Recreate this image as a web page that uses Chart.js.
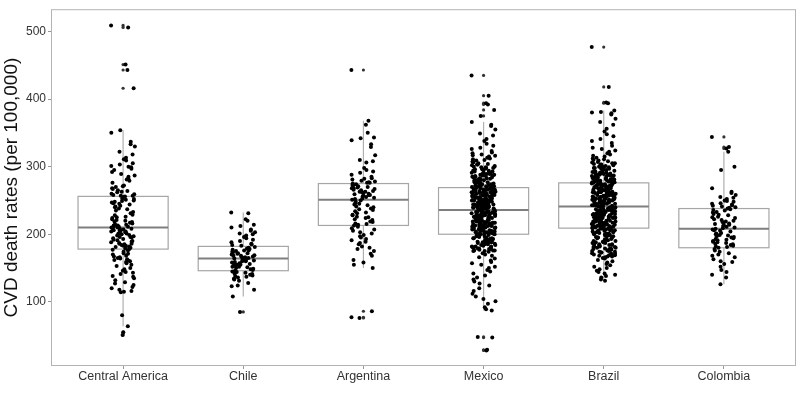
<!DOCTYPE html>
<html>
<head>
<meta charset="utf-8">
<script src="https://cdn.jsdelivr.net/npm/chart.js@4/dist/chart.umd.min.js"></script>
<style>
  html, body { margin: 0; padding: 0; background: #fff; }
</style>
</head>
<body>
<canvas id="chart" width="800" height="400"></canvas>
<script>
// categories and box statistics
const categories = ["Central America", "Chile", "Argentina", "Mexico", "Brazil", "Colombia"];
const q1 = [178, 146, 213, 200, 209, 180];
const median = [210, 164, 251, 236, 241, 208];
const q3 = [256, 182, 275, 269, 276, 238];
const whiskerLow = [64, 108, 150, 87, 131, 126];
const whiskerHigh = [354, 232, 368, 366, 383, 322];
const yTicks = [100, 200, 300, 400, 500];

// CVD death rates per region (one value per point)
const centralAmerica = [
  509, 506, 451, 443, 416,
  354, 350, 337, 333, 330, 322, 318, 313, 311, 309, 305, 303, 301, 299, 297, 292, 289, 287, 285, 281,
  279, 276, 272, 270, 268, 267, 265, 264, 262, 260, 259, 258, 257, 257, 256, 263, 271, 283, 295, 300,
  255, 253, 251, 250, 249, 248, 247, 246, 245, 244, 242, 241, 240, 238, 237, 235, 233, 231, 229, 228,
  226, 225, 224, 222, 221, 220, 219, 218, 217, 216, 215, 214, 213, 213, 212, 211, 211, 210, 210, 252,
  209, 208, 208, 207, 206, 205, 204, 204, 203, 202, 201, 200, 199, 198, 197, 196, 195, 194, 193, 192,
  190, 189, 188, 187, 186, 185, 184, 183, 182, 181, 180, 180, 179, 178, 206, 201, 196, 191, 186, 183,
  177, 176, 174, 172, 171, 170, 168, 166, 165, 164, 163, 162, 160, 159, 157, 155, 153, 150, 148, 146,
  144, 143, 141, 138, 137, 135, 132, 129, 127, 125, 122, 120, 118, 116, 115, 114, 80, 64, 167, 161,
  55, 51
];
const chile = [
  232, 231, 222, 220, 214, 212, 210, 207, 205, 203, 201, 200, 198, 196, 194, 192, 190, 188, 186, 185, 184, 183,
  181, 180, 179, 178, 177, 176, 175, 174, 173, 172, 172, 171, 170, 169, 168, 168, 167, 166, 166, 165, 165, 164, 176,
  163, 162, 162, 161, 160, 159, 158, 157, 157, 156, 155, 154, 153, 152, 151, 150, 149, 148, 147, 146, 160, 155, 152,
  145, 144, 143, 142, 141, 140, 139, 138, 137, 136, 134, 133, 131, 128, 124, 123, 118, 108, 85
];
const argentina = [
  443, 368, 362, 350, 343, 342, 339, 333, 329, 317, 310, 308, 306, 298, 295, 293, 291, 288, 285, 283,
  281, 279, 278, 277, 276, 276, 275, 282,
  274, 273, 272, 271, 270, 269, 268, 267, 266, 265, 264, 263, 262, 261, 260, 259, 258, 257, 256, 255,
  254, 253, 252, 251, 268, 263, 258,
  250, 248, 246, 245, 243, 241, 240, 238, 236, 234, 232, 231, 229, 228, 226, 224, 222, 221, 219, 218,
  216, 215, 214, 213, 244, 237, 225,
  211, 209, 207, 205, 203, 201, 199, 197, 195, 193, 191, 189, 187, 185, 182, 180, 178, 175, 171, 168,
  162, 158, 155, 150, 86, 77, 76
];
const mexico = [
  435, 405, 394, 392, 384, 375,
  366, 362, 360, 355, 349, 346, 341, 338, 334, 331, 328, 326, 323, 321, 320, 318, 316, 315, 313, 312,
  311, 310, 309, 307, 306, 305, 304, 303, 302, 301, 300, 299, 298, 297, 296, 295, 294, 293, 292, 291,
  290, 289, 288, 287, 286, 285, 284, 283, 282, 281, 280, 279, 278, 277, 276, 275, 274, 273, 272, 271, 270,
  317, 308, 303, 299, 296, 293, 290, 287, 285, 283, 281, 279, 277, 275, 273, 271, 270, 300, 294, 288,
  284, 280, 276, 272, 298, 291, 286, 282, 278, 274, 289, 279, 271,
  269, 268, 267, 266, 265, 264, 263, 262, 261, 260, 259, 258, 257, 256, 255, 254, 253, 252, 251, 250,
  249, 248, 247, 246, 245, 244, 243, 242, 241, 240, 239, 238, 237, 236,
  268, 266, 264, 262, 260, 258, 256, 254, 252, 250, 248, 246, 244, 242, 240, 238, 236,
  267, 265, 263, 261, 259, 257, 255, 253, 251, 249, 247, 245, 243, 241, 239, 237,
  269, 266, 263, 260, 257, 254, 251, 248, 245, 242, 239, 236,
  268, 264, 261, 258, 255, 252, 249, 246, 243, 240, 237,
  267, 262, 256, 250, 244, 238, 265, 259, 253, 247, 241, 263, 257, 249, 243,
  235, 234, 233, 232, 231, 230, 229, 228, 227, 226, 225, 224, 223, 222, 221, 220, 219, 218, 217, 216,
  215, 214, 213, 212, 211, 210, 209, 208, 207, 206, 205, 204, 203, 202, 201, 200,
  234, 232, 230, 228, 226, 224, 222, 220, 218, 216, 214, 212, 210, 208, 206, 204, 202, 200,
  235, 233, 231, 229, 227, 225, 223, 221, 219, 217, 215, 213, 211, 209, 207, 205, 203, 201,
  233, 230, 227, 224, 221, 218, 215, 212, 209, 206, 203, 200,
  232, 229, 226, 223, 220, 217, 214, 211, 208, 205, 202,
  231, 225, 219, 213, 207, 201, 228, 222, 216, 210, 204,
  199, 198, 197, 196, 195, 194, 193, 192, 191, 190, 189, 188, 187, 186, 185, 184, 183, 182, 181, 180,
  179, 178, 177, 176, 175,
  198, 196, 194, 192, 190, 188, 186, 184, 182, 180, 178, 176,
  197, 194, 191, 188, 185, 182, 179, 176, 174,
  199, 193, 187, 181, 175,
  172, 170, 168, 166, 164, 161, 159, 157, 155, 152, 150, 147, 145, 142, 139, 136, 133, 130, 127, 124,
  120, 116, 112, 108, 104, 101, 97, 92, 89, 87,
  48, 47, 29, 28
];
const brazil = [
  477, 418, 395, 394,
  383, 381, 380, 379, 377, 371, 366, 362, 356, 352, 348, 345, 341, 338, 335, 331, 328, 326, 324, 322,
  320, 318, 316, 315, 313, 312, 310, 309, 308, 307, 306, 305, 304, 303, 302, 301, 300, 299, 299, 298,
  297, 296, 296, 295, 294, 294, 293, 292, 292, 291, 290, 290, 289, 289, 288, 288, 287, 287, 286, 286,
  285, 285, 284, 284, 283, 283, 282, 282, 281, 281, 280, 280, 280, 279, 279, 278, 278, 278, 277, 277,
  277, 276, 276, 276,
  311, 303, 297, 291, 286, 282, 279, 300, 293, 287, 284, 281, 278, 305, 298, 289, 283, 279, 277,
  275, 275, 274, 274, 273, 273, 272, 272, 271, 271, 270, 270, 269, 269, 268, 268, 267, 267, 266, 266,
  265, 265, 264, 264, 263, 263, 262, 262, 261, 261, 260, 260, 259, 259, 258, 258, 257, 257, 256, 256,
  255, 255, 254, 254, 253, 253, 252, 252, 251, 251, 250, 250, 249, 249, 248, 248, 247, 247, 246, 246,
  245, 245, 244, 244, 243, 243, 242, 242, 241, 241,
  274, 271, 268, 265, 262, 259, 256, 253, 250, 247, 244, 273, 267, 261, 255, 249, 243, 270, 264, 258,
  252, 246, 272, 266, 260, 254, 248, 242, 269, 257, 245, 263, 251,
  240, 240, 239, 239, 238, 238, 237, 237, 236, 236, 235, 235, 234, 234, 233, 233, 232, 232, 231, 231,
  230, 230, 229, 229, 228, 228, 227, 227, 226, 226, 225, 225, 224, 224, 223, 223, 222, 222, 221, 221,
  220, 220, 219, 219, 218, 218, 217, 217, 216, 216, 215, 215, 214, 214, 213, 213, 212, 212, 211, 211,
  210, 210, 209, 209,
  239, 236, 233, 230, 227, 224, 221, 218, 215, 212, 238, 232, 226, 220, 214, 237, 231, 225, 219, 213,
  235, 229, 223, 217, 211, 234, 228, 222, 216, 210, 240, 225, 215, 209,
  208, 207, 206, 205, 204, 203, 202, 201, 200, 199, 198, 197, 196, 195, 194, 193, 192, 191, 190, 189,
  188, 187, 186, 185, 184, 183, 182, 181, 180, 179, 178, 177, 176, 175, 174, 173, 172, 171, 170, 169,
  168, 167, 166, 165, 164,
  207, 205, 203, 201, 199, 197, 195, 193, 191, 189, 187, 185, 183, 181, 179, 177, 175, 173, 171, 169, 167,
  206, 202, 198, 194, 190, 186, 182, 178, 174, 170, 204, 196, 188, 180, 208, 200, 192, 184,
  162, 160, 158, 156, 154, 152, 150, 148, 146, 144, 142, 140, 138, 136, 133, 131
];
const colombia = [
  344, 329, 327, 322, 300, 295, 268, 263, 261, 258, 255, 254, 252, 250, 249, 248, 246, 245, 244, 243,
  242, 241, 240, 239, 238,
  237, 236, 235, 233, 232, 230, 229, 228, 226, 225, 224, 222, 221, 220, 219, 218, 217, 216, 215, 214,
  213, 212, 211, 210, 209, 208,
  207, 206, 205, 204, 202, 201, 200, 199, 198, 197, 196, 195, 194, 193, 192, 191, 190, 189, 188, 187,
  186, 185, 184, 183, 182, 181, 180,
  178, 176, 174, 172, 170, 168, 166, 163, 160, 159, 156, 152, 147, 144, 140, 136, 126
];
const seriesValues = [centralAmerica, chile, argentina, mexico, brazil, colombia];

// jittered points (deterministic spread around each category) + outlier marks at centre
const jitterPoints = [];
const outlierPoints = [];
seriesValues.forEach((vals, ci) => {
  vals.forEach((v, k) => {
    const off = (((k * 0.618034 + k * k * 0.0917) % 1) - 0.5) * 0.2;
    jitterPoints.push({ x: ci + off, y: v });
    if (v < whiskerLow[ci] || v > whiskerHigh[ci]) outlierPoints.push({ x: ci, y: v });
  });
});

const boxPlugin = {
  id: "boxes",
  beforeDatasetsDraw(chart) {
    const { ctx, chartArea: a, scales: { x, y } } = chart;
    ctx.save();
    // panel border
    ctx.strokeStyle = "#b3b3b3";
    ctx.lineWidth = 1;
    ctx.strokeRect(a.left + 0.5, a.top + 0.5, a.right - a.left - 1, a.bottom - a.top - 1);
    categories.forEach((c, i) => {
      const cx = x.getPixelForValue(i);
      const l = x.getPixelForValue(i - 0.375);
      const r = x.getPixelForValue(i + 0.375);
      // whiskers
      ctx.strokeStyle = "#b0b0b0";
      ctx.lineWidth = 1.2;
      ctx.beginPath();
      ctx.moveTo(cx, y.getPixelForValue(whiskerHigh[i]));
      ctx.lineTo(cx, y.getPixelForValue(q3[i]));
      ctx.moveTo(cx, y.getPixelForValue(q1[i]));
      ctx.lineTo(cx, y.getPixelForValue(whiskerLow[i]));
      ctx.stroke();
      // box
      ctx.strokeStyle = "#a6a6a6";
      ctx.lineWidth = 1.2;
      const top = y.getPixelForValue(q3[i]);
      const bot = y.getPixelForValue(q1[i]);
      ctx.strokeRect(l, top, r - l, bot - top);
      // median
      ctx.strokeStyle = "#7f7f7f";
      ctx.lineWidth = 2;
      ctx.beginPath();
      const my = y.getPixelForValue(median[i]);
      ctx.moveTo(l, my);
      ctx.lineTo(r, my);
      ctx.stroke();
    });
    ctx.restore();
  }
};

new Chart(document.getElementById("chart"), {
  type: "scatter",
  data: {
    datasets: [
      {
        label: "points",
        data: jitterPoints,
        pointRadius: 2,
        pointBackgroundColor: "#000",
        pointBorderWidth: 0
      },
      {
        label: "outliers",
        data: outlierPoints,
        pointRadius: 1.6,
        pointBackgroundColor: "#333",
        pointBorderWidth: 0
      }
    ]
  },
  options: {
    responsive: false,
    animation: false,
    devicePixelRatio: 1,
    layout: { padding: { top: 3, right: 3, left: 0, bottom: 0 } },
    plugins: { legend: { display: false }, tooltip: { enabled: false } },
    scales: {
      x: {
        type: "linear",
        min: -0.6,
        max: 5.6,
        afterBuildTicks: (s) => { s.ticks = categories.map((c, i) => ({ value: i })); },
        afterFit: (s) => { s.height = 34; },
        ticks: {
          callback: (v) => categories[v],
          font: { family: "Liberation Sans, Arial", size: 12.5 },
          color: "#333",
          padding: 0,
          maxRotation: 0,
          autoSkip: false
        },
        grid: { drawOnChartArea: false, drawTicks: true, tickLength: 3, color: "#999" },
        border: { display: false }
      },
      y: {
        min: 5,
        max: 533,
        afterBuildTicks: (s) => { s.ticks = yTicks.map((v) => ({ value: v })); },
        afterFit: (s) => { s.width = 51; },
        ticks: {
          font: { family: "Liberation Sans, Arial", size: 12 },
          color: "#333",
          padding: 2
        },
        grid: { drawOnChartArea: false, drawTicks: true, tickLength: 3, color: "#999" },
        border: { display: false },
        title: {
          display: true,
          text: "CVD death rates (per 100,000)",
          font: { family: "Liberation Sans, Arial", size: 19 },
          color: "#111",
          padding: { top: 0, bottom: 2 }
        }
      }
    }
  },
  plugins: [boxPlugin]
});
</script>
</body>
</html>
